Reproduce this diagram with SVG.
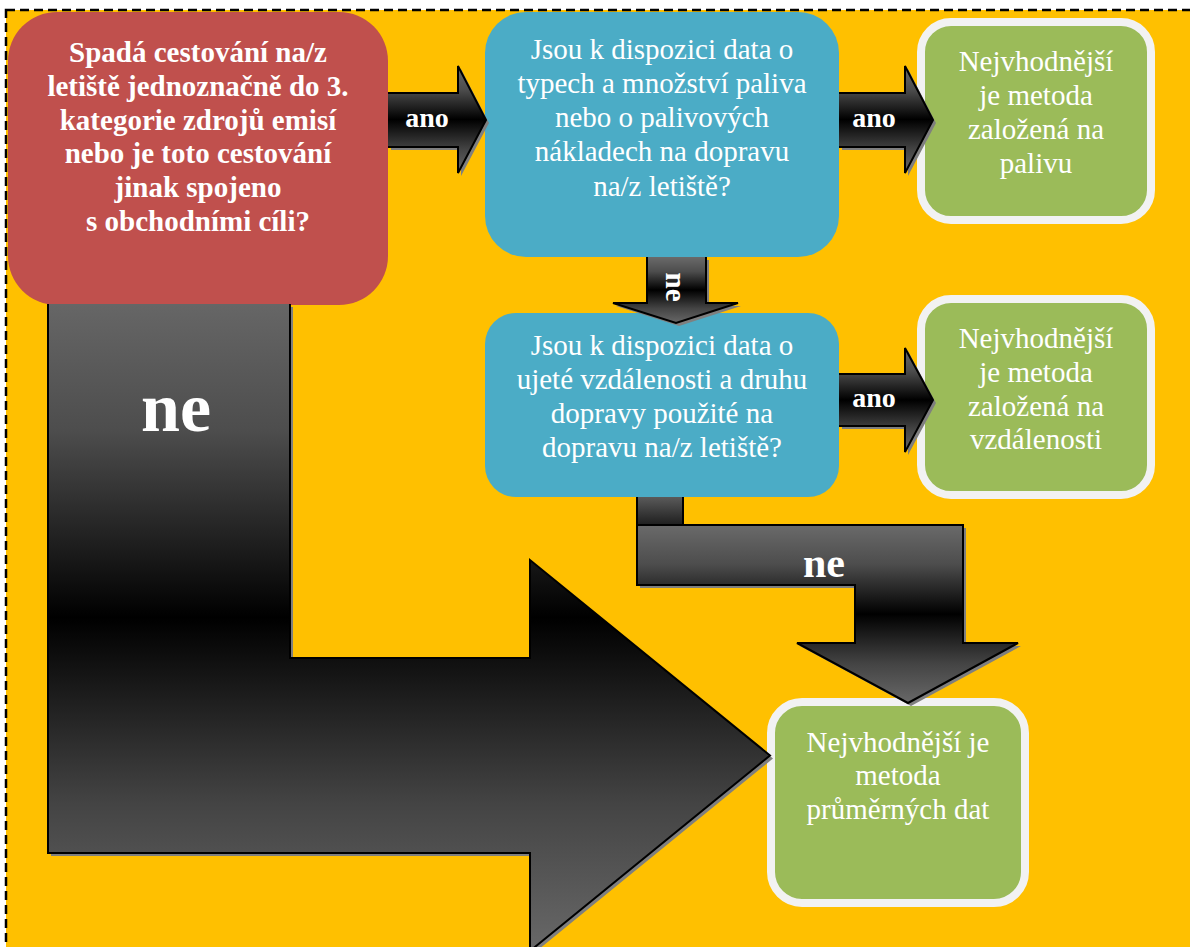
<svg xmlns="http://www.w3.org/2000/svg" width="1190" height="947" viewBox="0 0 1190 947">
<defs>
<linearGradient id="g" x1="0" y1="0" x2="0" y2="1">
<stop offset="0" stop-color="#6a6a6a"/>
<stop offset="0.22" stop-color="#4d4d4d"/>
<stop offset="0.5" stop-color="#000"/>
<stop offset="0.78" stop-color="#444"/>
<stop offset="1" stop-color="#686868"/>
</linearGradient>
<linearGradient id="gBig" gradientUnits="userSpaceOnUse" x1="0" y1="284" x2="0" y2="951">
<stop offset="0" stop-color="#6a6a6a"/>
<stop offset="0.22" stop-color="#4d4d4d"/>
<stop offset="0.5" stop-color="#000"/>
<stop offset="0.78" stop-color="#444"/>
<stop offset="1" stop-color="#686868"/>
</linearGradient>
<linearGradient id="gStub" gradientUnits="userSpaceOnUse" x1="0" y1="497" x2="0" y2="525">
<stop offset="0" stop-color="#5a5a5a"/>
<stop offset="1" stop-color="#1e1e1e"/>
</linearGradient>
<style>
.bg{fill:#ffc000;stroke:#000;stroke-width:2.5;stroke-dasharray:9 5}
.red{fill:#c0504d}
.blue{fill:#4bacc6}
.green{fill:#9bbb59;stroke:#f2f2f2;stroke-width:8}
.t{font-family:"Liberation Serif","Times New Roman",serif;font-size:29px;fill:#fff;text-anchor:middle}
.b{font-weight:bold}
.arr{fill:url(#g);stroke:#000;stroke-width:2;stroke-linejoin:miter}
.sh{fill:#7f7f7f}
.lbl{font-family:"Liberation Serif","Times New Roman",serif;font-weight:bold;fill:#fff;text-anchor:middle}
</style>
</defs>
<rect x="0" y="0" width="1190" height="947" fill="#fff"/>
<rect class="bg" x="6" y="10" width="1200" height="960"/>

<g id="nodes">
<g id="q1">
<rect class="red" x="8" y="12" width="380" height="293" rx="49" ry="49"/>
<text class="t b" x="198" y="62">Spadá cestování na/z</text>
<text class="t b" x="198" y="96">letiště jednoznačně do 3.</text>
<text class="t b" x="198" y="129.5">kategorie zdrojů emisí</text>
<text class="t b" x="198" y="163">nebo je toto cestování</text>
<text class="t b" x="198" y="197">jinak spojeno</text>
<text class="t b" x="198" y="231">s obchodními cíli?</text>
</g>
<g id="q2">
<rect class="blue" x="485" y="12" width="354" height="245" rx="41" ry="41"/>
<text class="t" x="662" y="58.5">Jsou k dispozici data o</text>
<text class="t" x="662" y="92.7">typech a množství paliva</text>
<text class="t" x="662" y="127">nebo o palivových</text>
<text class="t" x="662" y="161.3">nákladech na dopravu</text>
<text class="t" x="662" y="195.6">na/z letiště?</text>
</g>
<g id="q3">
<rect class="blue" x="485" y="313" width="354" height="184" rx="31" ry="31"/>
<text class="t" x="662" y="355">Jsou k dispozici data o</text>
<text class="t" x="662" y="389">ujeté vzdálenosti a druhu</text>
<text class="t" x="662" y="423">dopravy použité na</text>
<text class="t" x="662" y="457">dopravu na/z letiště?</text>
</g>
<g id="r1">
<rect class="green" x="921" y="22" width="230" height="198" rx="30" ry="30"/>
<text class="t" x="1036" y="71">Nejvhodnější</text>
<text class="t" x="1036" y="105">je metoda</text>
<text class="t" x="1036" y="139">založená na</text>
<text class="t" x="1036" y="173">palivu</text>
</g>
<g id="r2">
<rect class="green" x="921" y="299" width="230" height="196" rx="30" ry="30"/>
<text class="t" x="1036" y="348">Nejvhodnější</text>
<text class="t" x="1036" y="382">je metoda</text>
<text class="t" x="1036" y="416">založená na</text>
<text class="t" x="1036" y="449">vzdálenosti</text>
</g>
<g id="r3">
<rect class="green" x="771" y="702" width="254" height="201" rx="31" ry="31"/>
<text class="t" x="898" y="752">Nejvhodnější je</text>
<text class="t" x="898" y="785">metoda</text>
<text class="t" x="898" y="819">průměrných dat</text>
</g>
</g>

<g id="connectors">
<!-- big "ne" arrow from q1 to r3 -->
<path class="sh" d="M51,307 V856 H533 V954 L773,758.5 L533,563 V661 H293 V307 Z"/>
<path d="M48,304 V853 H530 V951 L770,755.5 L530,560 V658 H290 V304" fill="url(#gBig)" stroke="#000" stroke-width="2"/>
<text class="lbl" x="176" y="431" font-size="70">ne</text>

<!-- ano q1 -> q2 -->
<path class="sh" d="M391,96 H461 V69 L489,123 L461,176 V150 H391 Z"/>
<path class="arr" d="M388,93 H458 V66 L486,120 L458,173 V147 H388"/>
<text class="lbl" x="427" y="127" font-size="28">ano</text>

<!-- ano q2 -> r1 -->
<path class="sh" d="M842,96 H908 V69 L936,123 L908,176 V150 H842 Z"/>
<path class="arr" d="M839,93 H905 V66 L933,120 L905,173 V147 H839"/>
<text class="lbl" x="874" y="127" font-size="28">ano</text>

<!-- ano q3 -> r2 -->
<path class="sh" d="M842,377 H908 V351 L936,403 L908,455 V429 H842 Z"/>
<path class="arr" d="M839,374 H905 V348 L933,400 L905,452 V426 H839"/>
<text class="lbl" x="874" y="407" font-size="28">ano</text>

<!-- ne q2 -> q3 -->
<path class="sh" d="M650,260 V306 H616 L679,326 L741,306 H709 V260 Z"/>
<path class="arr" d="M647,257 V303 H613 L676,323 L738,303 H706 V257"/>
<text class="lbl" font-size="29" transform="translate(672,287) rotate(90)" x="0" y="6">ne</text>

<!-- ne q3 -> r3 (bent) -->
<path d="M637,497 V525 H683 V497" fill="url(#gStub)" stroke="#000" stroke-width="2"/>
<path class="sh" d="M640,528 H966 V646 H1021 L911,706 L800,646 H858 V588 H640 Z"/>
<path class="arr" d="M637,525 H963 V643 H1018 L908,703 L797,643 H855 V585 H637 Z"/>
<text class="lbl" x="824" y="577" font-size="42">ne</text>
</g>
</svg>
